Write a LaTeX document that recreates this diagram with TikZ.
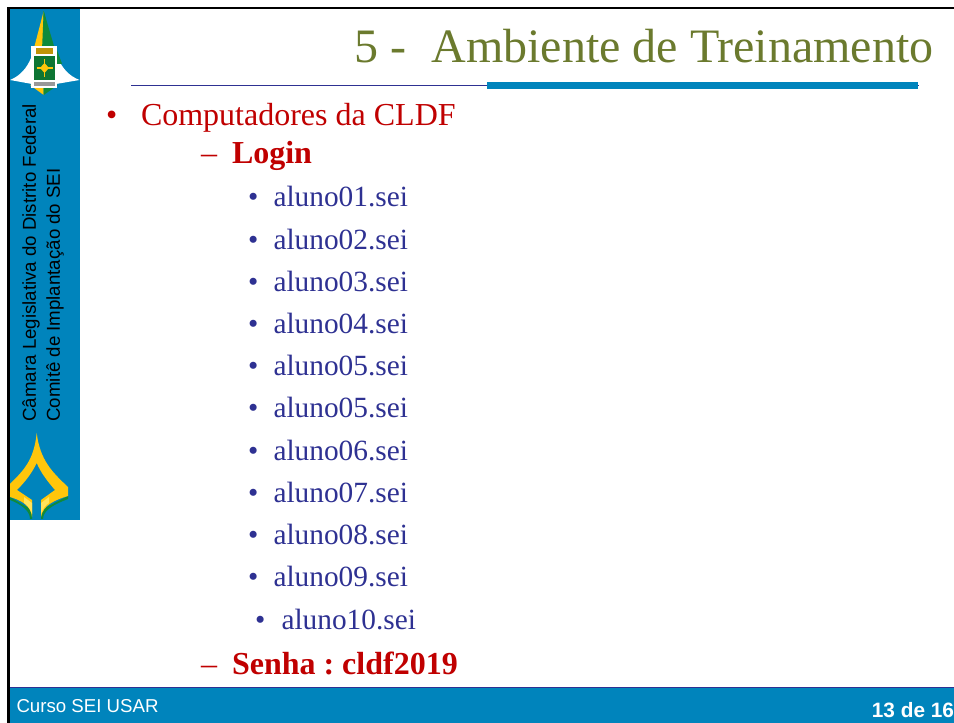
\documentclass[tikz,border=0pt]{standalone}
\usepackage{fontspec}
\setmainfont{Liberation Serif}
\setsansfont{Liberation Sans}
\definecolor{barblue}{HTML}{0084BC}
\definecolor{titleolive}{HTML}{6B7A2E}
\definecolor{redtxt}{HTML}{C00000}
\definecolor{itemblue}{HTML}{2E3192}
\definecolor{logoyellow}{HTML}{FFC60B}
\definecolor{logolight}{HTML}{FFE45C}
\definecolor{logogreen}{HTML}{0F8A3C}
\tikzset{
  txt/.style={anchor=base west,inner sep=0pt,outer sep=0pt},
  titletxt/.style={txt,font=\fontsize{36}{40}\selectfont,text=titleolive},
  lvlone/.style={txt,font=\fontsize{24}{28}\selectfont,text=redtxt},
  lvltwo/.style={txt,font=\fontsize{24}{28}\selectfont\bfseries,text=redtxt},
  lvlthree/.style={txt,font=\fontsize{22}{26}\selectfont,text=itemblue},
  sidetxt/.style={txt,rotate=90,font=\sffamily\fontsize{14}{16}\selectfont,text=black},
  foot/.style={txt,font=\sffamily\fontsize{14}{16}\selectfont,text=white},
}
\begin{document}
\frenchspacing
\begin{tikzpicture}[x=0.75pt,y=-0.75pt]
\useasboundingbox (0,0) rectangle (954,723);
\fill[white] (0,0) rectangle (954,723);
% panels
\fill[barblue] (10,9) rectangle (80,520);
\fill[barblue] (10,687) rectangle (954,723);
\draw[draw=itemblue,line width=0.75pt] (10,687) -- (954,687);
% frame
\fill[black] (7.3,7.3) rectangle (954,9.5);
\fill[black] (7.3,7.3) rectangle (10,723);
% title rules
\draw[draw=itemblue,line width=0.6pt] (131,85.3) -- (919,85.3);
\fill[barblue] (487,82) rectangle (918,89);
% top logo
\fill[white] (31,58) .. controls (27,68) and (20,76) .. (10,80) -- (32,84) -- (56,84) -- (79.5,80) .. controls (69,76) and (62,68) .. (58,58) -- cycle;
\fill[logoyellow] (43.7,11) -- (33.5,50) -- (43,50) -- cycle;
\fill[logogreen] (43.7,11) -- (42,50) -- (57,50) -- (62,64) -- (57,64) -- cycle;
\fill[logogreen] (43.7,11) -- (54,46) -- (62,64) -- (56,60) -- (44,50) -- cycle;
\fill[logoyellow] (30,85) -- (43.7,95) -- (43.7,85) -- cycle;
\fill[logogreen] (58,85) -- (43.7,95) -- (43.7,85) -- cycle;
\fill[white] (31,46) rectangle (57,88);
\fill[logoyellow!75!black] (36,48) rectangle (53,54.5);
\fill[logogreen!85!black] (34,56) rectangle (55,80);
\fill[black!40] (34,82.5) rectangle (55,86);
\draw[logoyellow,line width=0.9pt] (36.5,68) -- (52.5,68) (44.5,59) -- (44.5,77);
\fill[logoyellow] (44.5,63) -- (49,68) -- (44.5,73) -- (40,68) -- cycle;
% bottom logo
\fill[logogreen] (10,497) -- (32,510) -- (32,519) -- (30,519) .. controls (30,510) and (20,504) .. (10,500) -- cycle;
\fill[logogreen] (68,496) -- (41,510) -- (41,519) -- (43,519) .. controls (43,510) and (55,504) .. (68,499) -- cycle;
\fill[logoyellow] (36.7,433) .. controls (34,460) and (24,470) .. (10,484) -- (10,497)
  .. controls (20,500) and (31,505) .. (32,517) -- (32,500) -- (17,490) .. controls (25,482) and (32,473) .. (36.7,463)
  .. controls (41,473) and (48,482) .. (55,490) -- (41,500) -- (41,517) .. controls (43,505) and (55,500) .. (68,496) -- (68,487)
  .. controls (52,472) and (40,460) .. (36.7,433) -- cycle;
\fill[logolight] (24,497) -- (32,503) -- (32,514) .. controls (30,508) and (27,505) .. (24,503) -- cycle;
\fill[logolight] (49,497) -- (41,503) -- (41,514) .. controls (43,508) and (46,505) .. (49,503) -- cycle;
% texts
\node[titletxt] (title) at (354,63) {5 -\hspace{0.25em}\hspace{0.28em}Ambiente de Treinamento};
\node[sidetxt] (sideone) at (36,421.5) {Câmara Legislativa do Distrito Federal};
\node[sidetxt] (sidetwo) at (60,421.5) {Comitê de Implantação do SEI};
\node[lvlone] (bulA) at (106,126) {•};
\node[lvlone] (main) at (141,126) {Computadores da CLDF};
\node[lvlone] (dashA) at (201,164) {–};
\node[lvltwo] (login) at (232,164) {Login};
\foreach \i/\t/\b in {a/aluno01/207,b/aluno02/249.2,c/aluno03/291.4,d/aluno04/333.6,e/aluno05/375.8,f/aluno05/418,g/aluno06/460.2,h/aluno07/502.4,i/aluno08/544.6,j/aluno09/586.8}{
  \node[lvlthree] (bul\i) at (248,\b) {•};
  \node[lvlthree] (item\i) at (273.5,\b) {\t.sei};
}
\node[lvlthree] (bulk) at (255,629) {•};
\node[lvlthree] (itemk) at (281.5,629) {aluno10.sei};
\node[lvlone] (dashB) at (201,674) {–};
\node[lvltwo] (senha) at (232,674) {Senha : cldf2019};
\node[foot] (course) at (16.5,712) {Curso SEI USAR};
\node[foot,font=\sffamily\bfseries\fontsize{15.6}{16}\selectfont,anchor=base east] (page) at (954,717.5) {13 de 16};
\end{tikzpicture}
\end{document}
